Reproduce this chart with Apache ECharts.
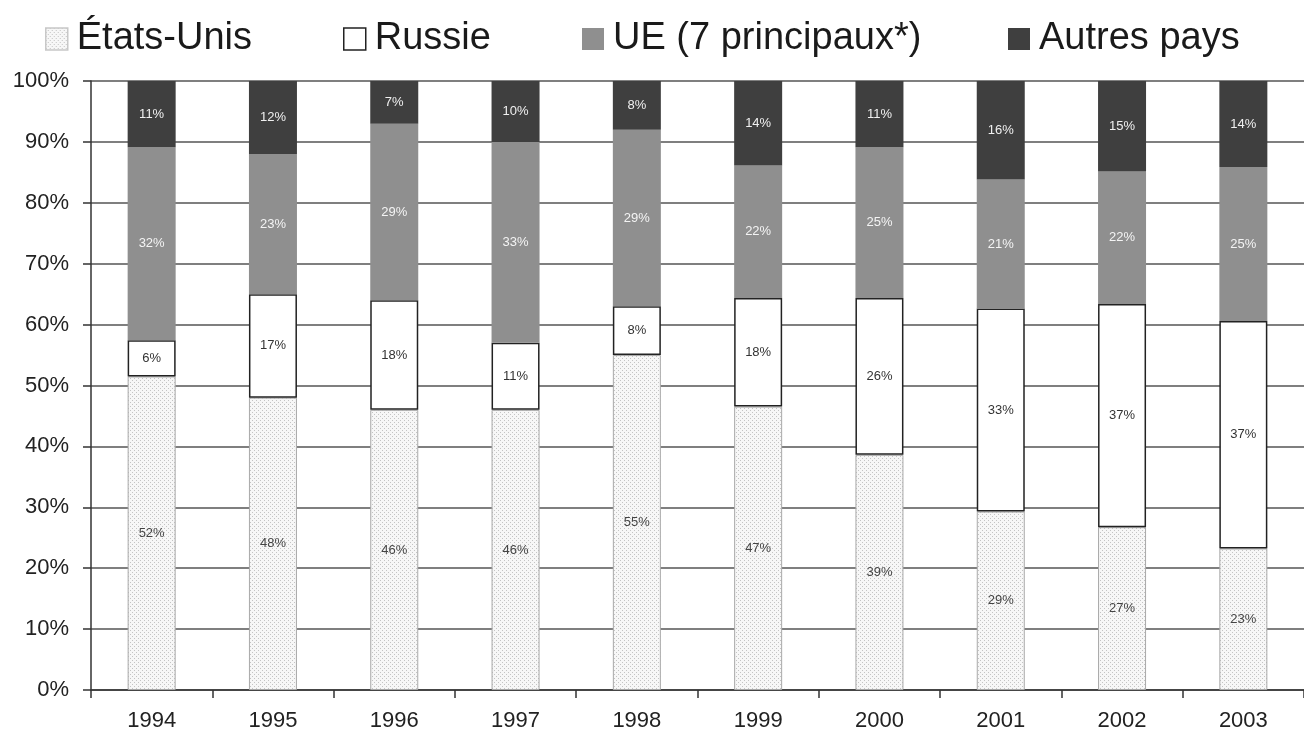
<!DOCTYPE html>
<html>
<head>
<meta charset="utf-8">
<script src="https://cdn.jsdelivr.net/npm/echarts@6/dist/echarts.min.js"></script>
<style>html,body{margin:0;padding:0;background:#fff}#c{width:1304px;height:738px}</style>
</head>
<body>
<div id="c"></div>
<script>
const years = ['1994','1995','1996','1997','1998','1999','2000','2001','2002','2003'];
const seriesNames = ['États-Unis','Russie','UE (7 principaux*)','Autres pays'];
const etatsUnis = [52,48,46,46,55,47,39,29,27,23];
const russie = [6,17,18,11,8,18,26,33,37,37];
const ue = [32,23,29,33,29,22,25,21,22,25];
const autres = [11,12,7,10,8,14,11,16,15,14];
const yTicks = ['0%','10%','20%','30%','40%','50%','60%','70%','80%','90%','100%'];

const raw = [etatsUnis, russie, ue, autres];
const totals = years.map((_, i) => raw.reduce((s, a) => s + a[i], 0));

// dotted pattern
const pc = document.createElement('canvas');
pc.width = 4; pc.height = 4;
const pctx = pc.getContext('2d');
pctx.fillStyle = '#f7f7f7'; pctx.fillRect(0,0,4,4);
pctx.fillStyle = '#c4c4c4';
pctx.fillRect(0,0,1,1); pctx.fillRect(2,2,1,1);
const pattern = {image: pc, repeat: 'repeat'};

const styles = [
  {color: pattern, borderColor: '#a8a8a8', borderWidth: 1, label: '#444'},
  {color: '#ffffff', borderColor: '#222', borderWidth: 1.5, label: '#333'},
  {color: '#8f8f8f', borderColor: '#8f8f8f', borderWidth: 0, label: '#f4f4f4'},
  {color: '#3f3f3f', borderColor: '#3f3f3f', borderWidth: 0, label: '#f0f0f0'}
];

const series = raw.map((arr, k) => ({
  name: seriesNames[k],
  type: 'bar',
  stack: 'total',
  barWidth: 48,
  data: arr.map((v, i) => ({value: v / totals[i] * 100, raw: v})),
  itemStyle: {color: styles[k].color, borderColor: styles[k].borderColor, borderWidth: styles[k].borderWidth},
  label: {
    show: true, position: 'inside',
    fontFamily: 'Liberation Sans, Arial, sans-serif', fontSize: 13,
    color: styles[k].label,
    formatter: p => p.data.raw + '%'
  },
  emphasis: {disabled: true}
}));

const legendLefts = [40, 338, 577, 1003];
const legends = seriesNames.map((n, k) => ({
  top: 15, left: legendLefts[k],
  icon: 'rect',
  itemWidth: 22, itemHeight: 22,
  selectedMode: false,
  textStyle: {fontSize: 38, color: '#1a1a1a', padding: [0,0,0,4]},
  data: [{name: n, itemStyle: {color: styles[k].color, borderColor: k === 1 ? '#222' : (k === 0 ? '#c8c8c8' : styles[k].borderColor), borderWidth: k <= 1 ? 1.5 : 0}}]
}));

const chart = echarts.init(document.getElementById('c'), null, {renderer: 'canvas'});
chart.setOption({
  animation: false,
  backgroundColor: '#ffffff',
  textStyle: {fontFamily: 'Liberation Sans, Arial, sans-serif'},
  legend: legends,
  grid: {left: 91, top: 81, width: 1220, height: 609, containLabel: false},
  xAxis: {
    type: 'category', data: years,
    axisLine: {lineStyle: {color: '#333', width: 1.5}},
    axisTick: {show: true, length: 8, lineStyle: {color: '#333', width: 1.5}},
    axisLabel: {fontSize: 22, color: '#222', margin: 20}
  },
  yAxis: {
    type: 'value', min: 0, max: 100, interval: 10,
    axisLine: {show: true, lineStyle: {color: '#333', width: 1.5}},
    axisTick: {show: true, length: 8, lineStyle: {color: '#333', width: 1.5}},
    axisLabel: {fontSize: 22, color: '#222', margin: 22, formatter: v => yTicks[Math.round(v / 10)]},
    splitLine: {show: true, lineStyle: {color: '#555', width: 1.5}}
  },
  series: series
});
</script>
</body>
</html>
